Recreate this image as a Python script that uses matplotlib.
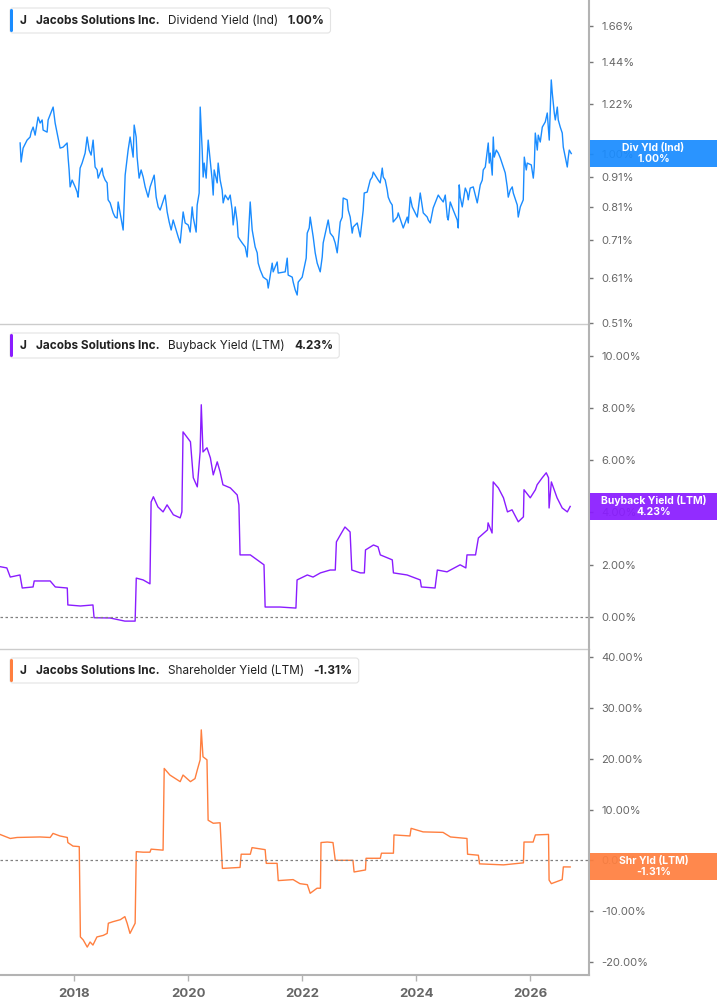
import matplotlib
matplotlib.use("Agg")
import matplotlib.pyplot as plt
import matplotlib.transforms as mtransforms
from matplotlib.patches import Rectangle, FancyBboxPatch
from matplotlib.ticker import FixedLocator, FuncFormatter, NullLocator

plt.rcParams['font.family'] = ['Inter', 'DejaVu Sans']

# Figure size in pixels
W, H = 717, 1005

ticker = "J"
company = "Jacobs Solutions Inc."

# Dividend yield (Ind), % -- dates as decimal years
div_dates = [
    2017.053, 2017.070, 2017.105, 2017.175, 2017.228, 2017.246, 2017.281, 2017.316, 2017.368, 2017.404,
    2017.439, 2017.456, 2017.526, 2017.544, 2017.632, 2017.667, 2017.702, 2017.754, 2017.807, 2017.877,
    2017.895, 2017.912, 2017.930, 2017.965, 2018.018, 2018.053, 2018.070, 2018.105, 2018.140, 2018.193,
    2018.228, 2018.263, 2018.298, 2018.333, 2018.368, 2018.404, 2018.421, 2018.491, 2018.509, 2018.544,
    2018.579, 2018.596, 2018.632, 2018.684, 2018.719, 2018.754, 2018.772, 2018.807, 2018.860, 2018.895,
    2018.947, 2018.982, 2019.035, 2019.053, 2019.088, 2019.105, 2019.140, 2019.175, 2019.211, 2019.246,
    2019.298, 2019.333, 2019.404, 2019.439, 2019.474, 2019.509, 2019.596, 2019.632, 2019.667, 2019.702,
    2019.737, 2019.825, 2019.860, 2019.912, 2019.947, 2020.000, 2020.035, 2020.070, 2020.088, 2020.123,
    2020.140, 2020.158, 2020.193, 2020.211, 2020.246, 2020.263, 2020.281, 2020.316, 2020.351, 2020.386,
    2020.421, 2020.439, 2020.456, 2020.509, 2020.526, 2020.561, 2020.596, 2020.614, 2020.649, 2020.702,
    2020.737, 2020.772, 2020.789, 2020.825, 2020.860, 2020.877, 2020.912, 2020.947, 2021.000, 2021.035,
    2021.053, 2021.088, 2021.123, 2021.175, 2021.211, 2021.228, 2021.263, 2021.316, 2021.386, 2021.404,
    2021.474, 2021.491, 2021.561, 2021.579, 2021.702, 2021.737, 2021.754, 2021.825, 2021.842, 2021.877,
    2021.912, 2021.930, 2022.000, 2022.035, 2022.070, 2022.088, 2022.123, 2022.140, 2022.175, 2022.193,
    2022.228, 2022.263, 2022.316, 2022.351, 2022.368, 2022.456, 2022.491, 2022.544, 2022.579, 2022.614,
    2022.667, 2022.702, 2022.719, 2022.789, 2022.807, 2022.842, 2022.877, 2022.895, 2022.965, 2023.018,
    2023.070, 2023.088, 2023.140, 2023.193, 2023.228, 2023.246, 2023.333, 2023.368, 2023.404, 2023.421,
    2023.456, 2023.491, 2023.509, 2023.544, 2023.579, 2023.596, 2023.667, 2023.684, 2023.772, 2023.842,
    2023.860, 2023.895, 2023.930, 2024.018, 2024.070, 2024.123, 2024.193, 2024.211, 2024.246, 2024.298,
    2024.386, 2024.421, 2024.474, 2024.509, 2024.544, 2024.561, 2024.596, 2024.649, 2024.719, 2024.737,
    2024.754, 2024.772, 2024.807, 2024.860, 2024.895, 2024.912, 2024.947, 2025.000, 2025.070, 2025.123,
    2025.158, 2025.175, 2025.211, 2025.263, 2025.281, 2025.298, 2025.333, 2025.351, 2025.368, 2025.404,
    2025.439, 2025.474, 2025.526, 2025.561, 2025.596, 2025.614, 2025.649, 2025.684, 2025.702, 2025.772,
    2025.789, 2025.825, 2025.860, 2025.877, 2025.895, 2025.930, 2025.947, 2026.018, 2026.053, 2026.070,
    2026.088, 2026.123, 2026.140, 2026.175, 2026.211, 2026.263, 2026.298, 2026.333, 2026.351, 2026.368,
    2026.386, 2026.421, 2026.439, 2026.474, 2026.491, 2026.526, 2026.561, 2026.579, 2026.614, 2026.649,
    2026.667, 2026.684, 2026.719]
div_values = [
    1.043, 0.967, 1.022, 1.055, 1.068, 1.089, 1.111, 1.076, 1.156, 1.129,
    1.143, 1.098, 1.089, 1.143, 1.203, 1.129, 1.085, 1.022, 1.026, 1.043,
    0.983, 0.937, 0.876, 0.900, 0.876, 0.858, 0.841, 0.944, 0.963, 1.002,
    1.068, 1.014, 0.994, 1.055, 0.948, 0.937, 0.907, 0.944, 0.918, 0.900,
    0.890, 0.832, 0.822, 0.790, 0.777, 0.774, 0.825, 0.790, 0.738, 0.918,
    1.014, 1.068, 0.986, 1.120, 1.068, 0.986, 0.907, 0.937, 0.911, 0.876,
    0.841, 0.876, 0.918, 0.841, 0.809, 0.799, 0.848, 0.793, 0.762, 0.738,
    0.768, 0.718, 0.701, 0.793, 0.759, 0.753, 0.732, 0.809, 0.777, 0.747,
    0.732, 0.815, 0.855, 1.203, 1.014, 0.911, 0.963, 0.907, 1.055, 0.975,
    0.900, 0.848, 0.937, 0.890, 0.963, 0.900, 0.865, 0.822, 0.848, 0.832,
    0.848, 0.799, 0.753, 0.809, 0.762, 0.718, 0.709, 0.701, 0.690, 0.663,
    0.709, 0.825, 0.738, 0.690, 0.674, 0.647, 0.630, 0.612, 0.605, 0.586,
    0.647, 0.625, 0.650, 0.622, 0.625, 0.660, 0.617, 0.612, 0.600, 0.582,
    0.570, 0.600, 0.612, 0.635, 0.660, 0.729, 0.744, 0.777, 0.738, 0.718,
    0.674, 0.647, 0.625, 0.663, 0.701, 0.768, 0.729, 0.718, 0.701, 0.674,
    0.762, 0.777, 0.838, 0.832, 0.799, 0.777, 0.729, 0.747, 0.759, 0.718,
    0.799, 0.855, 0.858, 0.900, 0.911, 0.929, 0.900, 0.890, 0.944, 0.911,
    0.900, 0.865, 0.841, 0.825, 0.815, 0.762, 0.777, 0.790, 0.744, 0.777,
    0.759, 0.841, 0.809, 0.777, 0.855, 0.790, 0.777, 0.768, 0.759, 0.806,
    0.848, 0.838, 0.825, 0.848, 0.777, 0.768, 0.825, 0.799, 0.768, 0.744,
    0.883, 0.841, 0.809, 0.872, 0.855, 0.832, 0.872, 0.876, 0.822, 0.883,
    0.900, 0.937, 0.948, 1.043, 0.963, 1.002, 0.918, 1.068, 0.986, 1.014,
    1.002, 0.983, 0.948, 0.926, 0.876, 0.841, 0.865, 0.876, 0.855, 0.815,
    0.777, 0.809, 0.825, 0.832, 0.986, 0.937, 0.963, 0.956, 0.907, 0.948,
    1.085, 1.014, 1.076, 1.047, 1.111, 1.134, 1.175, 1.055, 1.189, 1.340,
    1.272, 1.175, 1.143, 1.203, 1.143, 1.111, 1.085, 1.026, 0.986, 0.948,
    0.986, 1.014, 1.000]

# Buyback yield (LTM), %
bb_dates = [2016.70, 2016.82, 2016.88, 2017.05, 2017.09, 2017.28, 2017.30, 2017.58, 2017.67, 2017.88,
            2017.89, 2018.11, 2018.33, 2018.35, 2018.63, 2018.89, 2019.07, 2019.09, 2019.21, 2019.33,
            2019.35, 2019.39, 2019.47, 2019.56, 2019.63, 2019.74, 2019.86, 2019.89, 2019.91, 2020.04,
            2020.09, 2020.16, 2020.21, 2020.23, 2020.26, 2020.33, 2020.39, 2020.44, 2020.51, 2020.56,
            2020.61, 2020.74, 2020.86, 2020.89, 2020.91, 2021.09, 2021.21, 2021.33, 2021.35, 2021.61,
            2021.89, 2021.91, 2022.09, 2022.19, 2022.32, 2022.49, 2022.58, 2022.60, 2022.67, 2022.75,
            2022.84, 2022.87, 2023.02, 2023.09, 2023.11, 2023.25, 2023.33, 2023.37, 2023.58, 2023.60,
            2023.84, 2024.07, 2024.09, 2024.33, 2024.37, 2024.54, 2024.77, 2024.87, 2024.89, 2025.04,
            2025.09, 2025.25, 2025.26, 2025.33, 2025.35, 2025.44, 2025.53, 2025.60, 2025.68, 2025.79,
            2025.88, 2025.89, 2026.00, 2026.09, 2026.12, 2026.21, 2026.28, 2026.32, 2026.33, 2026.37,
            2026.47, 2026.56, 2026.65, 2026.70]
bb_values = [1.92, 1.87, 1.52, 1.60, 1.10, 1.14, 1.37, 1.37, 1.14, 1.10,
             0.45, 0.41, 0.45, -0.04, -0.05, -0.17, -0.17, 1.48, 1.41, 1.26,
             4.40, 4.60, 4.21, 4.02, 4.29, 3.91, 3.79, 4.02, 7.09, 6.71,
             5.33, 4.98, 6.32, 8.13, 6.32, 6.48, 6.09, 5.44, 5.94, 5.56,
             5.06, 4.94, 4.67, 4.29, 2.37, 2.37, 2.18, 1.99, 0.37, 0.37,
             0.33, 1.41, 1.60, 1.52, 1.68, 1.79, 1.79, 2.87, 3.14, 3.44,
             3.25, 1.79, 1.68, 1.68, 2.56, 2.75, 2.68, 2.37, 2.18, 1.68,
             1.60, 1.41, 1.14, 1.10, 1.79, 1.72, 1.99, 1.87, 2.37, 2.37,
             3.02, 3.33, 3.60, 3.21, 5.17, 4.94, 4.56, 4.02, 4.10, 3.64,
             3.83, 4.87, 4.56, 4.87, 5.06, 5.33, 5.52, 5.33, 4.17, 5.17,
             4.56, 4.17, 4.02, 4.23]

# Shareholder yield (LTM), %
sh_dates = [2016.70, 2016.88, 2017.00, 2017.40, 2017.58, 2017.63, 2017.75, 2017.88, 2017.89, 2017.98,
            2018.09, 2018.11, 2018.16, 2018.23, 2018.28, 2018.33, 2018.40, 2018.51, 2018.58, 2018.60,
            2018.68, 2018.81, 2018.89, 2018.93, 2018.98, 2019.07, 2019.09, 2019.21, 2019.33, 2019.35,
            2019.56, 2019.58, 2019.68, 2019.86, 2019.91, 2020.04, 2020.12, 2020.16, 2020.21, 2020.23,
            2020.26, 2020.33, 2020.35, 2020.44, 2020.56, 2020.60, 2020.91, 2020.93, 2021.09, 2021.12,
            2021.35, 2021.37, 2021.56, 2021.58, 2021.84, 2021.96, 2022.09, 2022.14, 2022.26, 2022.32,
            2022.33, 2022.44, 2022.54, 2022.58, 2022.89, 2022.91, 2023.11, 2023.12, 2023.37, 2023.39,
            2023.60, 2023.61, 2023.89, 2023.91, 2024.12, 2024.47, 2024.60, 2024.89, 2024.90, 2025.09,
            2025.11, 2025.53, 2025.88, 2025.89, 2026.05, 2026.09, 2026.32, 2026.33, 2026.37, 2026.56,
            2026.58, 2026.70]
sh_values = [5.1, 4.3, 4.5, 4.6, 4.5, 5.3, 4.8, 4.5, 3.5, 2.8,
             2.7, -15.1, -15.7, -17.1, -16.1, -16.7, -15.1, -14.8, -14.4, -12.4,
             -12.1, -11.7, -11.1, -12.4, -14.4, -12.4, 1.7, 1.6, 1.6, 2.2,
             2.0, 18.1, 16.8, 15.5, 16.8, 15.5, 16.1, 17.8, 19.8, 25.7,
             20.4, 19.8, 7.9, 7.3, 7.4, -1.6, -1.4, 1.2, 1.2, 2.5,
             2.1, -0.6, -0.6, -4.0, -3.8, -4.6, -4.8, -6.5, -5.5, -5.5,
             3.5, 3.6, 3.5, 0.0, 0.0, -2.3, -1.9, 0.4, 0.4, 1.4,
             1.4, 5.0, 4.8, 6.3, 5.6, 5.5, 4.6, 4.3, 1.2, 1.0,
             -0.7, -0.9, -0.5, 3.6, 3.6, 5.0, 5.1, -3.9, -4.6, -3.8,
             -1.3, -1.31]

div_ticks = [0.51, 0.61, 0.71, 0.81, 0.91, 1.00, 1.22, 1.44, 1.66]
bb_ticks = [0, 2, 4, 6, 8, 10]
sh_ticks = [-20, -10, 0, 10, 20, 30, 40]
year_ticks = [2018, 2020, 2022, 2024, 2026]

panels = [
    dict(dates=div_dates, values=div_values, ticks=div_ticks, color='#1a8cff',
         metric="Dividend Yield (Ind)", short="Div Yld (Ind)", last="1.00%",
         top=0, bottom=324, ylim=(0.508, 1.841), log=True, zero=False),
    dict(dates=bb_dates, values=bb_values, ticks=bb_ticks, color='#8a1cff',
         metric="Buyback Yield (LTM)", short="Buyback Yield (LTM)", last="4.23%",
         top=325, bottom=649, ylim=(-1.24, 11.19), log=False, zero=True),
    dict(dates=sh_dates, values=sh_values, ticks=sh_ticks, color='#ff7f3f',
         metric="Shareholder Yield (LTM)", short="Shr Yld (LTM)", last="-1.31%",
         top=650, bottom=975, ylim=(-22.6, 41.44), log=False, zero=True),
]

fig = plt.figure(figsize=(W / 100, H / 100), dpi=100)
ident = mtransforms.IdentityTransform()
spine_x = 589
renderer = fig.canvas.get_renderer()

for i, p in enumerate(panels):
    ax = fig.add_axes([0, 1 - p['bottom'] / H, spine_x / W, (p['bottom'] - p['top']) / H])
    ax.plot(p['dates'], p['values'], color=p['color'], lw=1.0)
    if p['log']:
        ax.set_yscale('log')
    ax.set_ylim(*p['ylim'])
    ax.set_xlim(2016.70, 2027.03)
    ax.yaxis.set_major_locator(FixedLocator(p['ticks']))
    ax.yaxis.set_minor_locator(NullLocator())
    ax.yaxis.set_major_formatter(FuncFormatter(lambda v, pos: f"{v:.2f}%"))
    ax.yaxis.tick_right()
    ax.tick_params(axis='y', direction='out', length=3, width=1, color='#777777',
                   labelsize=8, labelcolor='#666666', pad=6)
    ax.xaxis.set_major_locator(FixedLocator(year_ticks))
    ax.xaxis.set_major_formatter(FuncFormatter(lambda v, pos: f"{int(v)}"))
    ax.spines['left'].set_visible(False)
    ax.spines['top'].set_visible(False)
    ax.spines['right'].set_color('#b3b3b3')
    ax.spines['right'].set_linewidth(1.5)
    ax.set_facecolor('none')
    if i < 2:
        ax.spines['bottom'].set_color('#cccccc')
        ax.spines['bottom'].set_linewidth(1.0)
        ax.tick_params(axis='x', bottom=False, labelbottom=False)
    else:
        ax.spines['bottom'].set_color('#b3b3b3')
        ax.spines['bottom'].set_linewidth(1.5)
        ax.tick_params(axis='x', direction='out', length=4, width=1, color='#b3b3b3',
                       labelsize=9.5, labelcolor='#666666', pad=5)
        for lab in ax.get_xticklabels():
            lab.set_fontweight('bold')
    if p['zero']:
        ax.axhline(0, color='#808080', lw=0.9, ls=(0, (2, 2)))

    # value tag on the right axis, centred on the latest value
    yd = ax.transData.transform((2027.0, p['values'][-1]))[1]
    fig.add_artist(Rectangle((spine_x + 1, yd - 13.5), W - spine_x, 27, transform=ident,
                             facecolor=p['color'], edgecolor='none', alpha=0.93, zorder=5))
    fig.text((spine_x + W) / 2 + 0.5, yd + 5.5, p['short'], transform=ident, ha='center',
             va='center', color='white', fontsize=7.5, fontweight='bold', zorder=6)
    fig.text((spine_x + W) / 2 + 0.5, yd - 5.5, p['last'], transform=ident, ha='center',
             va='center', color='white', fontsize=7.5, fontweight='bold', zorder=6)

    # legend box at top left
    cy = H - (p['top'] + 20.5)
    x = 20
    parts = [(ticker, 'bold', 9), (company, 'bold', 9), (p['metric'], 'normal', 9),
             (p['last'], 'bold', 0)]
    for txt, weight, gap in parts:
        t = fig.text(x, cy, txt, transform=ident, ha='left', va='center', fontsize=8.5,
                     fontweight=weight, color='#222222', zorder=6)
        ext = t.get_window_extent(renderer)
        x = ext.x1 + gap
    fig.add_artist(FancyBboxPatch((10, cy - 12.5), x + 6 - 10, 25, transform=ident,
                                  boxstyle='round,pad=0,rounding_size=3',
                                  facecolor='white', edgecolor='#e3e3e3', lw=0.8, zorder=4))
    fig.add_artist(FancyBboxPatch((10, cy - 11.5), 3, 23, transform=ident,
                                  boxstyle='round,pad=0,rounding_size=1.5',
                                  facecolor=p['color'], edgecolor='none', zorder=5))

fig.savefig("out.png", dpi=100, facecolor='white')
